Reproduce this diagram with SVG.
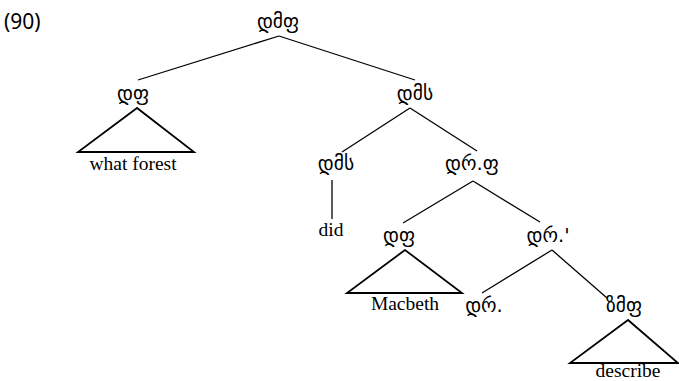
<svg xmlns="http://www.w3.org/2000/svg" width="679" height="381" viewBox="0 0 679 381">
<style>
.lab{font-family:"DejaVu Sans","Noto Sans",sans-serif;font-size:19.5px;fill:#000;text-anchor:middle}
.leaf{font-family:"Liberation Serif","Times New Roman",serif;font-size:19.5px;fill:#000;text-anchor:middle}
.num{font-family:"Noto Sans","Open Sans",sans-serif;font-size:21px;fill:#000}
.edge{stroke:#000;stroke-width:1.3;fill:none}
.tri{stroke:#000;stroke-width:1.8;fill:none;stroke-linejoin:miter}
</style>
<rect width="679" height="381" fill="#fff"/>
<text class="num" x="4" y="29">(90)</text>
<g id="connectors">
<line class="edge" x1="279" y1="36" x2="138" y2="80"/>
<line class="edge" x1="279" y1="36" x2="415" y2="80"/>
<line class="edge" x1="410" y1="108" x2="342" y2="152"/>
<line class="edge" x1="410" y1="108" x2="477" y2="151"/>
<line class="edge" x1="332" y1="180" x2="332" y2="219"/>
<line class="edge" x1="473" y1="181" x2="403" y2="223"/>
<line class="edge" x1="473" y1="181" x2="540" y2="222"/>
<line class="edge" x1="552" y1="250" x2="482" y2="293"/>
<line class="edge" x1="552" y1="250" x2="607" y2="298"/>
</g>
<g id="n_root"><text class="lab" x="278" y="28">დმფ</text></g>
<g id="n_np1">
<text class="lab" x="133" y="100">დფ</text>
<polygon class="tri" points="137,108 78,152 194,152"/>
<text class="leaf" x="133" y="170">what forest</text>
</g>
<g id="n_ibar"><text class="lab" x="415" y="100">დმს</text></g>
<g id="n_i">
<text class="lab" x="336" y="170">დმს</text>
</g>
<g id="n_did"><text class="leaf" x="331" y="236">did</text></g>
<g id="n_vp"><text class="lab" x="472" y="170">დრ.ფ</text></g>
<g id="n_np2">
<text class="lab" x="399" y="242">დფ</text>
<polygon class="tri" points="405,250 347,293 462,293"/>
<text class="leaf" x="405" y="310">Macbeth</text>
</g>
<g id="n_vbar"><text class="lab" x="548" y="242">დრ.'</text></g>
<g id="n_v"><text class="lab" x="484" y="312">დრ.</text></g>
<g id="n_np3">
<text class="lab" x="624" y="312">ზმფ</text>
<polygon class="tri" points="628,320 570,363 678,363"/>
<text class="leaf" x="628" y="377">describe</text>
</g>
</svg>
